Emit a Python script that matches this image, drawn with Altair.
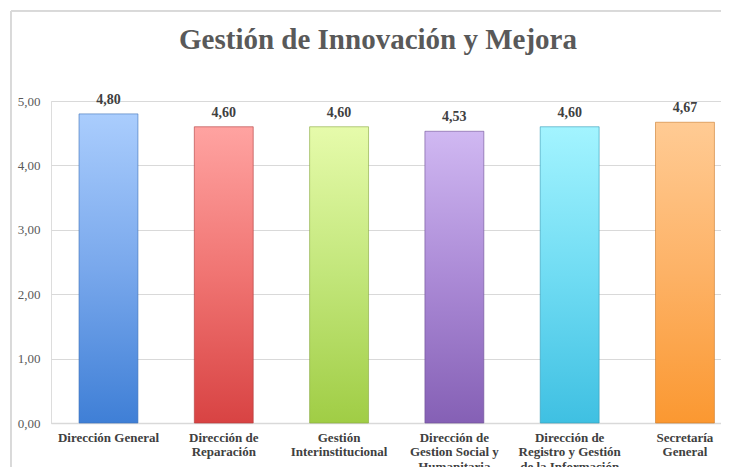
import altair as alt
import pandas as pd

categories = [
    "Dirección General",
    "Dirección de Reparación",
    "Gestión Interinstitucional",
    "Dirección de Gestion Social y Humanitaria",
    "Dirección de Registro y Gestión de la Información",
    "Secretaría General",
]
label_lines = [
    ["Dirección General"],
    ["Dirección de", "Reparación"],
    ["Gestión", "Interinstitucional"],
    ["Dirección de", "Gestion Social y", "Humanitaria"],
    ["Dirección de", "Registro y Gestión", "de la Información"],
    ["Secretaría", "General"],
]
values = [4.80, 4.60, 4.60, 4.53, 4.60, 4.67]
top_colors = ["#aacdfd", "#ffa3a1", "#e6fbab", "#d0b8f2", "#a3f4ff", "#ffcb94"]
mid_colors = ["#79a8ec", "#f07472", "#c2e67a", "#ab8ad6", "#70dcf3", "#fdb266"]
bottom_colors = ["#3f7fd6", "#d84343", "#a0cd45", "#8560b5", "#3fc0e2", "#fb9831"]
edge_colors = ["#3a6fb8", "#b03a3a", "#86a83c", "#6c4f94", "#3399b5", "#c97a2a"]

df = pd.DataFrame({"categoria": categories, "valor": values})

FONT = "Liberation Serif"

label_expr = ""
for c, lines in zip(categories, label_lines):
    arr = "[" + ",".join("'" + l + "'" for l in lines) + "]"
    label_expr += f"datum.label == '{c}' ? {arr} : "
label_expr += "datum.label"

x_enc = alt.X(
    "categoria:N",
    sort=categories,
    scale=alt.Scale(domain=categories, paddingInner=0.489, paddingOuter=0.15, align=0.81),
    axis=alt.Axis(
        title=None,
        labelAngle=0,
        labelExpr=label_expr,
        labelFont=FONT,
        labelFontSize=13,
        labelFontWeight="bold",
        labelColor="#404040",
        labelLineHeight=14.5,
        labelPadding=8,
        labelLimit=200,
        ticks=False,
        domainColor="#d9d9d9",
        domainWidth=1.5,
        grid=False,
    ),
)
y_enc = alt.Y(
    "valor:Q",
    scale=alt.Scale(domain=[0, 5], nice=False),
    axis=alt.Axis(
        title=None,
        values=[0, 1, 2, 3, 4, 5],
        labelExpr="replace(format(datum.value, '.2f'), '.', ',')",
        labelFont=FONT,
        labelFontSize=13,
        labelColor="#595959",
        labelPadding=11,
        ticks=False,
        domain=False,
        gridColor="#d9d9d9",
        gridWidth=1.2,
    ),
)

layers = []
for i, c in enumerate(categories):
    grad = alt.LinearGradient(
        gradient="linear",
        x1=0, y1=0, x2=0, y2=1,
        stops=[
            alt.GradientStop(color=top_colors[i], offset=0),
            alt.GradientStop(color=mid_colors[i], offset=0.5),
            alt.GradientStop(color=bottom_colors[i], offset=1),
        ],
    )
    layers.append(
        alt.Chart(df)
        .transform_filter(alt.datum.categoria == c)
        .mark_bar(color=grad, stroke=edge_colors[i], strokeWidth=1, strokeOpacity=0.6)
        .encode(x=x_enc, y=y_enc)
    )

text = (
    alt.Chart(df)
    .mark_text(font=FONT, fontSize=14, fontWeight="bold", color="#404040", dy=-10, baseline="alphabetic")
    .encode(
        x=alt.X("categoria:N", sort=categories),
        y="valor:Q",
        text=alt.Text("label:N"),
    )
    .transform_calculate(label="replace(format(datum.valor, '.2f'), '.', ',')")
)

border_top = alt.Chart(df).mark_rule(color="#d9d9d9", strokeWidth=1).encode(
    x=alt.value(-40), x2=alt.value(720), y=alt.value(-90)
)
border_left = alt.Chart(df).mark_rule(color="#d9d9d9", strokeWidth=1).encode(
    x=alt.value(-40), y=alt.value(-90), y2=alt.value(380)
)

chart = (
    alt.layer(border_top, border_left, *layers, text)
    .properties(
        width=670,
        height=322,
        padding={"left": 43, "top": 93, "right": 0, "bottom": 44},
        autosize=alt.AutoSizeParams(type="none"),
        title=alt.TitleParams(
            "Gestión de Innovación y Mejora",
            font=FONT,
            fontSize=29,
            fontWeight="bold",
            color="#595959",
            anchor="middle",
            baseline="alphabetic",
            offset=-67,
            dx=-8,
        ),
    )
    .configure_view(stroke=None)
    .configure(background="white")
)

chart.save("out.html", embed_options={"renderer": "svg", "actions": False})
